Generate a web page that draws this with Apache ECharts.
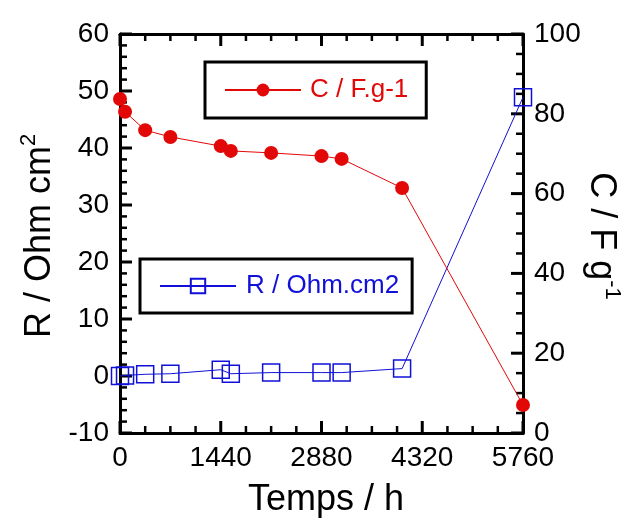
<!DOCTYPE html>
<html>
<head>
<meta charset="utf-8">
<script src="https://cdn.jsdelivr.net/npm/echarts@6/dist/echarts.min.js"></script>
<style>
html,body{margin:0;padding:0;background:#fff;}
#chart{width:633px;height:523px;}
</style>
</head>
<body>
<div id="chart"></div>
<script>
// Data
var timeHours = [0, 72, 360, 720, 1440, 1584, 2160, 2880, 3168, 4032, 5760];
var capacitance = [83.7, 80.5, 75.9, 74.2, 71.9, 70.7, 70.2, 69.4, 68.7, 61.4, 7.0];
var resistance = [0.0, 0.1, 0.3, 0.4, 1.1, 0.4, 0.6, 0.6, 0.6, 1.3, 48.9];
var xTicks = [0, 1440, 2880, 4320, 5760];
var leftTicks = [-10, 0, 10, 20, 30, 40, 50, 60];
var rightTicks = [0, 20, 40, 60, 80, 100];
var xMinorSplit = 4, leftMinorSplit = 5, rightMinorSplit = 4;
var nameC = 'C / F.g-1';
var nameR = 'R / Ohm.cm2';

var FONT = "'Liberation Sans', Arial, Helvetica, sans-serif";
var RED = '#e20808';
var BLUE = '#1010d8';
var MAJOR_LEN = 12, MINOR_LEN = 7, MAJOR_W = 3, MINOR_W = 2.5;

function pair(a){ return a.map(function(v,i){ return [timeHours[i], v]; }); }

// tick values (major + minor) -> [value, length, width]
function tickItems(ticks, split){
  var out = [];
  var step = (ticks[1] - ticks[0]) / split;
  for (var i = 0; i < ticks.length; i++) {
    out.push([ticks[i], MAJOR_LEN, MAJOR_W]);
    if (i < ticks.length - 1) {
      for (var k = 1; k < split; k++) out.push([ticks[i] + k * step, MINOR_LEN, MINOR_W]);
    }
  }
  return out;
}

function axisBase(pos, ticks, showLabel){
  return {
    type: 'value', position: pos,
    min: ticks[0], max: ticks[ticks.length-1], interval: ticks[1]-ticks[0],
    splitLine: {show: false},
    axisLine: {show: true, onZero: false, lineStyle: {color: '#000', width: 3}},
    axisTick: {show: false},
    minorTick: {show: false},
    axisLabel: {show: showLabel, color: '#000', fontSize: 28, fontFamily: FONT, margin: 11,
      formatter: function(v){ return String(v); }}
  };
}

var X0 = xTicks[0], X1 = xTicks[xTicks.length-1];
var L0 = leftTicks[0], L1 = leftTicks[leftTicks.length-1];
var R0 = rightTicks[0], R1 = rightTicks[rightTicks.length-1];

function tickLine(x1, y1, x2, y2, w){
  return {type: 'line', shape: {x1: x1, y1: y1, x2: x2, y2: y2},
    style: {stroke: '#000', lineWidth: w, lineCap: 'butt'}, silent: true};
}

var chart = echarts.init(document.getElementById('chart'), null, {renderer: 'canvas'});
var option = {
  animation: false,
  backgroundColor: '#fff',
  grid: {left: 120, right: 110, top: 34, bottom: 90, containLabel: false},
  title: {
    text: 'Temps / h', left: 248, top: 482, padding: 0,
    textStyle: {color: '#000', fontSize: 36, fontWeight: 'normal', fontFamily: FONT}
  },
  xAxis: [axisBase('bottom', xTicks, true), axisBase('top', xTicks, false)],
  yAxis: [axisBase('left', leftTicks, true), axisBase('right', rightTicks, true)],
  legend: [
    {
      data: [nameC], left: 205, top: 62,
      borderColor: '#000', borderWidth: 3, backgroundColor: '#fff',
      padding: [15, 18, 15, 19], itemWidth: 76, itemHeight: 16, itemGap: 0,
      textStyle: {color: RED, fontSize: 26, fontFamily: FONT, padding: [0, 0, 0, 4]}
    },
    {
      data: [nameR], left: 140, top: 259,
      borderColor: '#000', borderWidth: 3, backgroundColor: '#fff',
      padding: [14, 13, 14, 19], itemWidth: 76, itemHeight: 18, itemGap: 0,
      textStyle: {color: BLUE, fontSize: 26, fontFamily: FONT, padding: [0, 0, 0, 5]}
    }
  ],
  series: [
    // x-axis ticks (bottom and top, pointing inward)
    {
      type: 'custom', name: 'xticks', xAxisIndex: 0, yAxisIndex: 0, silent: true, clip: false, z: 1,
      data: tickItems(xTicks, xMinorSplit),
      renderItem: function(params, api){
        var v = api.value(0), len = api.value(1), w = api.value(2);
        var b = api.coord([v, L0]), t = api.coord([v, L1]);
        return {type: 'group', children: [
          tickLine(b[0], b[1], b[0], b[1] - len, w),
          tickLine(t[0], t[1], t[0], t[1] + len, w)
        ]};
      }
    },
    // left-axis ticks
    {
      type: 'custom', name: 'lticks', xAxisIndex: 0, yAxisIndex: 0, silent: true, clip: false, z: 1,
      data: tickItems(leftTicks, leftMinorSplit).map(function(d){ return [X0, d[0], d[1], d[2]]; }),
      renderItem: function(params, api){
        var p = api.coord([api.value(0), api.value(1)]);
        var len = api.value(2), w = api.value(3);
        return tickLine(p[0], p[1], p[0] + len, p[1], w);
      }
    },
    // right-axis ticks
    {
      type: 'custom', name: 'rticks', xAxisIndex: 0, yAxisIndex: 1, silent: true, clip: false, z: 1,
      data: tickItems(rightTicks, rightMinorSplit).map(function(d){ return [X1, d[0], d[1], d[2]]; }),
      renderItem: function(params, api){
        var p = api.coord([api.value(0), api.value(1)]);
        var len = api.value(2), w = api.value(3);
        return tickLine(p[0], p[1], p[0] - len, p[1], w);
      }
    },
    {
      name: nameR, type: 'line', xAxisIndex: 0, yAxisIndex: 0, data: pair(resistance),
      symbol: 'rect', symbolSize: 17, clip: false, z: 3,
      lineStyle: {color: BLUE, width: 1},
      itemStyle: {color: 'rgba(0,0,0,0)', borderColor: BLUE, borderWidth: 1.5}
    },
    {
      name: nameC, type: 'line', xAxisIndex: 0, yAxisIndex: 1, data: pair(capacitance),
      symbol: 'circle', symbolSize: 14, clip: false, z: 4,
      lineStyle: {color: RED, width: 1},
      itemStyle: {color: RED}
    }
  ],
  graphic: [
    {
      type: 'text', x: 38, y: 236, rotation: Math.PI / 2,
      style: {
        text: '{a|R / Ohm cm}{s|2}', align: 'center', verticalAlign: 'middle',
        rich: {
          a: {fontSize: 36, fontFamily: FONT, fill: '#000', lineHeight: 40, verticalAlign: 'bottom'},
          s: {fontSize: 22, fontFamily: FONT, fill: '#000', lineHeight: 22, verticalAlign: 'top'}
        }
      }
    },
    {
      type: 'text', x: 603, y: 236, rotation: -Math.PI / 2,
      style: {
        text: '{a|C / F g}{s|-1}', align: 'center', verticalAlign: 'middle',
        rich: {
          a: {fontSize: 36, fontFamily: FONT, fill: '#000', lineHeight: 40, verticalAlign: 'bottom'},
          s: {fontSize: 22, fontFamily: FONT, fill: '#000', lineHeight: 22, verticalAlign: 'top'}
        }
      }
    }
  ]
};
chart.setOption(option);
</script>
</body>
</html>
